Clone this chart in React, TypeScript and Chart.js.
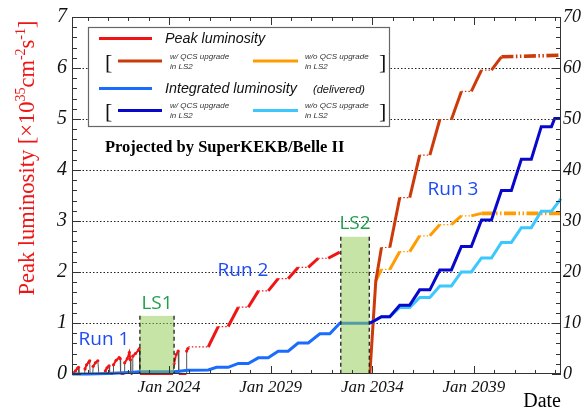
import React, { useEffect, useRef } from 'react';
import { Chart, registerables } from 'chart.js';

Chart.register(...registerables);

// ---------------- data ----------------
const xMin = 2019.23;
const xMax = 2043.28;
const xLabelYears = [2024, 2029, 2034, 2039];
const peakTickValues = [0, 1, 2, 3, 4, 5, 6, 7];
const intTickValues = [0, 10, 20, 30, 40, 50, 60, 70];
const peakGridValues = [1, 2, 3, 4, 5, 6];

// measured peak luminosity, Run 1 / early Run 2 [1e35 cm^-2 s^-1]
const run1Peak: [number, number][] = [
  [2019.25, 0], [2019.3, 0.02], [2019.4, 0.06], [2019.5, 0.11], [2019.55, 0.13], [2019.57, 0],
  [2019.85, 0], [2019.87, 0.1], [2019.95, 0.18], [2020.05, 0.23], [2020.1, 0.26], [2020.12, 0],
  [2020.25, 0], [2020.27, 0.15], [2020.38, 0.22], [2020.5, 0.26], [2020.55, 0],
  [2020.85, 0], [2020.87, 0.06], [2020.95, 0.12], [2021.05, 0.16], [2021.08, 0],
  [2021.25, 0], [2021.27, 0.18], [2021.4, 0.27], [2021.55, 0.32], [2021.6, 0.3], [2021.62, 0],
  [2021.8, 0], [2021.82, 0.22], [2021.95, 0.3], [2022.05, 0.42], [2022.1, 0.28], [2022.12, 0],
  [2022.2, 0], [2022.22, 0.35], [2022.35, 0.4], [2022.5, 0.47], [2022.55, 0.5], [2022.57, 0],
  [2024.2, 0], [2024.25, 0.2], [2024.35, 0.38], [2024.45, 0.45], [2024.48, 0],
  [2024.85, 0], [2024.87, 0.45], [2024.93, 0.5],
];

// projected peak luminosity, Run 2
const peakRun2: [number, number][] = [
  [2024.95, 0.53], [2025.93, 0.53], [2026.42, 0.93], [2026.91, 0.93], [2027.41, 1.31], [2027.9, 1.31],
  [2028.4, 1.63], [2028.88, 1.63], [2029.37, 1.87], [2029.86, 1.87], [2030.35, 2.09], [2030.85, 2.09],
  [2031.34, 2.27], [2031.83, 2.27], [2032.4, 2.39],
];

// projected peak luminosity, Run 3, with QCS upgrade in LS2
const peakRun3With: [number, number][] = [
  [2033.88, 0], [2034.17, 1.82], [2034.45, 2.48], [2034.86, 2.48], [2035.35, 3.46], [2035.84, 3.46],
  [2036.33, 4.29], [2036.83, 4.29], [2037.32, 4.99], [2037.89, 4.99], [2038.38, 5.54], [2038.87, 5.54],
  [2039.37, 5.96], [2039.86, 5.96], [2040.35, 6.22], [2043.28, 6.25],
];

// projected peak luminosity, Run 3, without QCS upgrade
const peakRun3Without: [number, number][] = [
  [2034.17, 1.82], [2034.45, 2.05], [2034.86, 2.05], [2035.35, 2.4], [2035.84, 2.4], [2036.33, 2.71],
  [2036.83, 2.71], [2037.32, 2.93], [2037.89, 2.93], [2038.38, 3.1], [2038.87, 3.1], [2039.37, 3.15],
  [2043.28, 3.15],
];

// integrated luminosity [ab^-1]
const intLumi: [number, number][] = [
  [2019.25, 0], [2020.0, 0.01], [2020.5, 0.05], [2021.0, 0.1], [2021.5, 0.18], [2022.0, 0.27],
  [2022.55, 0.43], [2024.2, 0.43], [2024.5, 0.55], [2024.9, 0.75], [2025.93, 0.78], [2026.34, 1.3],
  [2026.91, 1.3], [2027.41, 2.07], [2027.9, 2.07], [2028.39, 3.17], [2028.88, 3.17], [2029.37, 4.46],
  [2029.86, 4.46], [2030.35, 6.07], [2030.85, 6.07], [2031.42, 7.89], [2031.91, 7.89], [2032.4, 9.95],
  [2033.88, 9.95],
];

const intRun3With: [number, number][] = [
  [2033.88, 9.95], [2034.45, 11.25], [2034.86, 11.25], [2035.35, 13.5], [2035.84, 13.5], [2036.33, 16.5],
  [2036.83, 16.5], [2037.32, 20.4], [2037.89, 20.4], [2038.38, 25.0], [2038.87, 25.0], [2039.37, 30.2],
  [2039.86, 30.2], [2040.35, 36.0], [2040.84, 36.0], [2041.33, 42.1], [2041.82, 42.1], [2042.31, 48.5],
  [2042.81, 48.5], [2042.97, 50.1], [2043.28, 50.1],
];

const intRun3Without: [number, number][] = [
  [2033.88, 9.95], [2034.45, 11.25], [2034.86, 11.25], [2035.35, 13.05], [2035.84, 13.05], [2036.33, 15.0],
  [2036.83, 15.0], [2037.32, 17.26], [2037.89, 17.26], [2038.38, 20.0], [2038.87, 20.0], [2039.37, 22.75],
  [2039.86, 22.75], [2040.35, 25.8], [2040.84, 25.8], [2041.33, 28.7], [2041.82, 28.7], [2042.31, 31.9],
  [2042.81, 31.9], [2043.28, 34.4],
];

// long shutdowns
const lsNames = ['LS1', 'LS2'];
const lsStart = [2022.57, 2032.45];
const lsEnd = [2024.25, 2033.85];
const lsTop = [1.14, 2.69];
const lsLabelY = [1.38, 2.95];

// run labels
const runNames = ['Run 1', 'Run 2', 'Run 3'];
const runLabelX = [2020.8, 2027.64, 2037.97];
const runLabelY = [0.68, 2.02, 3.61];

// ---------------- styles ----------------
const RED = '#f01414';
const DARKRED = '#cc3a0a';
const ORANGE = '#ff9c00';
const BLUE = '#1a6cff';
const DARKBLUE = '#0808cc';
const LIGHTBLUE = '#3cc8ff';
const SERIF = '"Liberation Serif", "Times New Roman", serif';
const SANS = '"Liberation Sans", Arial, sans-serif';
const RUNFONT = '"Open Sans", "Noto Sans", sans-serif';

const toXY = (arr: [number, number][]) => arr.map(([x, y]) => ({ x, y }));

const yOf = (p: any) => (p.parsed ? p.parsed.y : p.y);
const isFlat = (c: any) => Math.abs(yOf(c.p0) - yOf(c.p1)) < 1e-9;
const isLast = (c: any) => c.p1DataIndex === c.chart.data.datasets[c.datasetIndex].data.length - 1;

function stepSegment(endDashDot: boolean) {
  return {
    borderWidth: (c: any) => (endDashDot && isLast(c) ? 3.6 : isFlat(c) ? 1.2 : 3),
    borderDash: (c: any) =>
      endDashDot && isLast(c) ? [12, 2.5, 1.5, 2.5, 1.5, 2.5] : isFlat(c) ? [1.5, 2] : [],
  };
}

const run1Segment = {
  borderColor: (c: any) => ((yOf(c.p0) === 0) !== (yOf(c.p1) === 0) ? '#555' : undefined),
  borderWidth: (c: any) => ((yOf(c.p0) === 0) !== (yOf(c.p1) === 0) ? 1 : undefined),
};

function drawRich(ctx: CanvasRenderingContext2D, parts: { t: string; sup?: boolean }[], size: number, x: number, y: number) {
  const main = `${size}px ${SERIF}`;
  const sup = `${Math.round(size * 0.62)}px ${SERIF}`;
  let w = 0;
  for (const p of parts) {
    ctx.font = p.sup ? sup : main;
    w += ctx.measureText(p.t).width;
  }
  let cx = x - w / 2;
  for (const p of parts) {
    ctx.font = p.sup ? sup : main;
    ctx.fillText(p.t, cx, p.sup ? y - size * 0.42 : y);
    cx += ctx.measureText(p.t).width;
  }
}

const decor = {
  id: 'decor',
  beforeDatasetsDraw(chart: any) {
    const { ctx, chartArea } = chart;
    const yl = chart.scales.y;
    ctx.save();
    ctx.strokeStyle = '#222';
    ctx.lineWidth = 1;
    ctx.setLineDash([1.5, 2]);
    for (const v of peakGridValues) {
      const py = Math.round(yl.getPixelForValue(v)) + 0.5;
      ctx.beginPath();
      ctx.moveTo(chartArea.left, py);
      ctx.lineTo(chartArea.right, py);
      ctx.stroke();
    }
    ctx.restore();
  },
  afterDatasetsDraw(chart: any) {
    const { ctx, chartArea } = chart;
    const xs = chart.scales.x;
    const yl = chart.scales.y;
    ctx.save();
    for (let i = 0; i < lsNames.length; i++) {
      const x0 = xs.getPixelForValue(lsStart[i]);
      const x1 = xs.getPixelForValue(lsEnd[i]);
      const yt = yl.getPixelForValue(lsTop[i]);
      const yb = chartArea.bottom;
      ctx.fillStyle = 'rgba(141,201,75,0.5)';
      ctx.fillRect(x0, yt, x1 - x0, yb - yt);
      ctx.strokeStyle = '#111';
      ctx.lineWidth = 1.2;
      ctx.setLineDash([4, 3]);
      ctx.beginPath();
      ctx.moveTo(x0, yt);
      ctx.lineTo(x0, yb);
      ctx.moveTo(x1, yt);
      ctx.lineTo(x1, yb);
      ctx.stroke();
    }
    ctx.restore();
  },
  afterDraw(chart: any) {
    const { ctx, chartArea } = chart;
    const { left, right, top, bottom } = chartArea;
    const xs = chart.scales.x;
    const yl = chart.scales.y;
    const yr = chart.scales.y2;
    ctx.save();
    // frame
    ctx.setLineDash([]);
    ctx.strokeStyle = '#333';
    ctx.lineWidth = 1;
    ctx.strokeRect(left + 0.5, top + 0.5, right - left - 1, bottom - top - 1);
    // x ticks (top and bottom)
    ctx.beginPath();
    for (let yv = Math.ceil(xMin); yv <= Math.floor(xMax); yv++) {
      const px = Math.round(xs.getPixelForValue(yv)) + 0.5;
      const len = xLabelYears.includes(yv) ? 8 : 4;
      ctx.moveTo(px, bottom);
      ctx.lineTo(px, bottom - len);
      ctx.moveTo(px, top);
      ctx.lineTo(px, top + len);
    }
    // left ticks
    for (let k = 0; k <= 35; k++) {
      const v = k * 0.2;
      const py = Math.round(yl.getPixelForValue(v)) + 0.5;
      const len = k % 5 === 0 ? 9 : 5;
      ctx.moveTo(left, py);
      ctx.lineTo(left + len, py);
    }
    // right ticks
    for (let k = 0; k <= 35; k++) {
      const v = k * 2;
      const py = Math.round(yr.getPixelForValue(v)) + 0.5;
      const len = k % 5 === 0 ? 9 : 5;
      ctx.moveTo(right, py);
      ctx.lineTo(right - len, py);
    }
    ctx.stroke();

    // LS labels
    ctx.textAlign = 'center';
    ctx.textBaseline = 'middle';
    ctx.fillStyle = '#1fa04e';
    ctx.font = `19px ${RUNFONT}`;
    for (let i = 0; i < lsNames.length; i++) {
      const cx = (xs.getPixelForValue(lsStart[i]) + xs.getPixelForValue(lsEnd[i])) / 2;
      ctx.fillText(lsNames[i], cx, yl.getPixelForValue(lsLabelY[i]));
    }
    // Run labels
    ctx.fillStyle = '#1f4cf2';
    ctx.font = `19px ${RUNFONT}`;
    for (let i = 0; i < runNames.length; i++) {
      ctx.fillText(runNames[i], xs.getPixelForValue(runLabelX[i]), yl.getPixelForValue(runLabelY[i]));
    }

    // Projected by ...
    ctx.textAlign = 'left';
    ctx.fillStyle = '#000';
    ctx.font = `bold 16.5px ${SERIF}`;
    ctx.fillText('Projected by SuperKEKB/Belle II', 105, 148);

    // Date
    ctx.textAlign = 'right';
    ctx.font = `20px ${SERIF}`;
    ctx.fillText('Date', 561, 402);

    // y title
    ctx.save();
    ctx.translate(34, 158);
    ctx.rotate(-Math.PI / 2);
    ctx.textAlign = 'left';
    ctx.textBaseline = 'alphabetic';
    ctx.fillStyle = RED;
    drawRich(
      ctx,
      [
        { t: 'Peak luminosity [\u00d710' },
        { t: '35', sup: true },
        { t: 'cm' },
        { t: '-2', sup: true },
        { t: 's' },
        { t: '-1', sup: true },
        { t: ']' },
      ],
      22.5,
      0,
      0
    );
    ctx.restore();

    // legend
    const lx = 88, ly = 27, lw = 301, lh = 99;
    ctx.fillStyle = '#fff';
    ctx.fillRect(lx, ly, lw, lh);
    ctx.strokeStyle = '#666';
    ctx.lineWidth = 1.2;
    ctx.strokeRect(lx + 0.5, ly + 0.5, lw, lh);
    const sample = (x0: number, x1: number, y: number, color: string) => {
      ctx.strokeStyle = color;
      ctx.lineWidth = 3;
      ctx.beginPath();
      ctx.moveTo(x0, y);
      ctx.lineTo(x1, y);
      ctx.stroke();
    };
    sample(99, 152, 38.5, RED);
    sample(118, 162, 61, DARKRED);
    sample(253, 298, 61, ORANGE);
    sample(99, 152, 88.5, BLUE);
    sample(118, 162, 110.5, DARKBLUE);
    sample(253, 298, 110.5, LIGHTBLUE);
    ctx.fillStyle = '#111';
    ctx.textAlign = 'left';
    ctx.textBaseline = 'middle';
    ctx.font = `italic 14.3px ${SANS}`;
    ctx.fillText('Peak luminosity', 165, 39);
    ctx.fillText('Integrated luminosity', 165, 89);
    ctx.font = `italic 11px ${SANS}`;
    ctx.fillText('(delivered)', 313, 90);
    ctx.font = `italic 8px ${SANS}`;
    ctx.fillStyle = '#333';
    ctx.fillText('w/ QCS upgrade', 170, 57);
    ctx.fillText('in LS2', 170, 67);
    ctx.fillText('w/o QCS upgrade', 305, 57);
    ctx.fillText('in LS2', 305, 67);
    ctx.fillText('w/ QCS upgrade', 170, 106);
    ctx.fillText('in LS2', 170, 116);
    ctx.fillText('w/o QCS upgrade', 305, 106);
    ctx.fillText('in LS2', 305, 116);
    ctx.fillStyle = '#111';
    ctx.font = `22px ${SERIF}`;
    ctx.fillText('[', 105, 63);
    ctx.fillText('[', 105, 112);
    ctx.fillText(']', 379, 63);
    ctx.fillText(']', 379, 112);
    ctx.restore();
  },
};

export default function App() {
  const ref = useRef<HTMLCanvasElement>(null);
  useEffect(() => {
    const canvas = ref.current;
    if (!canvas) return;
    const chart = new Chart(canvas, {
      type: 'line',
      data: {
        datasets: [
          {
            label: 'Integrated w/ QCS',
            data: toXY(intRun3With),
            yAxisID: 'y2',
            borderColor: DARKBLUE,
            borderWidth: 3,
            pointRadius: 0,
            clip: 4,
          },
          {
            label: 'Integrated w/o QCS',
            data: toXY(intRun3Without),
            yAxisID: 'y2',
            borderColor: LIGHTBLUE,
            borderWidth: 3,
            pointRadius: 0,
            clip: 4,
          },
          {
            label: 'Integrated luminosity',
            data: toXY(intLumi),
            yAxisID: 'y2',
            borderColor: BLUE,
            borderWidth: 3,
            pointRadius: 0,
            clip: 4,
          },
          {
            label: 'Peak measured',
            data: toXY(run1Peak),
            yAxisID: 'y',
            borderColor: RED,
            borderWidth: 2,
            pointRadius: (c: any) => (c.raw && c.raw.y > 0 ? 1.6 : 0),
            pointBackgroundColor: RED,
            pointBorderWidth: 0,
            segment: run1Segment,
            clip: 4,
          },
          {
            label: 'Peak Run 2',
            data: toXY(peakRun2),
            yAxisID: 'y',
            borderColor: RED,
            borderWidth: 3,
            pointRadius: 0,
            segment: stepSegment(false),
            clip: 4,
          },
          {
            label: 'Peak w/ QCS',
            data: toXY(peakRun3With),
            yAxisID: 'y',
            borderColor: DARKRED,
            borderWidth: 3,
            pointRadius: 0,
            segment: stepSegment(true),
            clip: 4,
          },
          {
            label: 'Peak w/o QCS',
            data: toXY(peakRun3Without),
            yAxisID: 'y',
            borderColor: ORANGE,
            borderWidth: 3,
            pointRadius: 0,
            segment: stepSegment(true),
            clip: 4,
          },
        ],
      },
      options: {
        responsive: false,
        animation: false,
        devicePixelRatio: 1,
        layout: { padding: { top: 13, left: 0, right: 0, bottom: 0 } },
        plugins: { legend: { display: false }, tooltip: { enabled: false }, title: { display: false } },
        elements: { line: { tension: 0 } },
        scales: {
          x: {
            type: 'linear',
            min: xMin,
            max: xMax,
            grid: { display: false, drawTicks: false, tickLength: 0 },
            border: { display: false },
            afterBuildTicks: (s: any) => {
              s.ticks = xLabelYears.map((v) => ({ value: v }));
            },
            afterFit: (s: any) => {
              s.height = 39;
            },
            ticks: {
              autoSkip: false,
              maxRotation: 0,
              padding: 3,
              color: '#111',
              font: { family: SERIF, style: 'italic', size: 17 },
              callback: (v: any) => 'Jan ' + v,
            },
          },
          y: {
            type: 'linear',
            position: 'left',
            min: 0,
            max: 7,
            grid: { display: false, drawTicks: false, tickLength: 0 },
            border: { display: false },
            afterBuildTicks: (s: any) => {
              s.ticks = peakTickValues.map((v) => ({ value: v }));
            },
            afterFit: (s: any) => {
              s.width = 72;
            },
            ticks: {
              padding: 5,
              color: '#111',
              font: { family: SERIF, style: 'italic', size: 20 },
            },
          },
          y2: {
            type: 'linear',
            position: 'right',
            min: 0,
            max: 70,
            grid: { display: false, drawTicks: false, tickLength: 0 },
            border: { display: false },
            afterBuildTicks: (s: any) => {
              s.ticks = intTickValues.map((v) => ({ value: v }));
            },
            afterFit: (s: any) => {
              s.width = 25;
            },
            ticks: {
              padding: 2,
              color: '#111',
              font: { family: SERIF, style: 'italic', size: 18 },
            },
          },
        },
      },
      plugins: [decor],
    } as any);
    return () => chart.destroy();
  }, []);
  return (
    <div style={{ position: 'fixed', left: 0, top: 0, width: 586, height: 413, background: '#fff' }}>
      <canvas ref={ref} width={586} height={413} style={{ display: 'block', width: 586, height: 413 }} />
    </div>
  );
}
